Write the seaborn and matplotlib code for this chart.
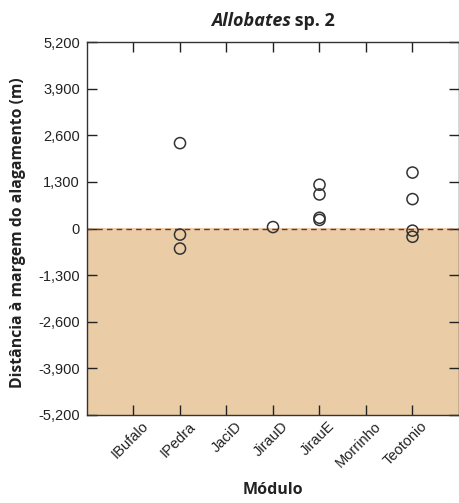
import matplotlib
matplotlib.use("Agg")
import matplotlib.pyplot as plt
import matplotlib.transforms as mtransforms
import seaborn as sns
import pandas as pd
from matplotlib.ticker import FuncFormatter

categories = ["IBufalo", "IPedra", "JaciD", "JirauD", "JirauE", "Morrinho", "Teotonio"]
point_module = ["IPedra", "IPedra", "IPedra",
                "JirauD",
                "JirauE", "JirauE", "JirauE", "JirauE",
                "Teotonio", "Teotonio", "Teotonio", "Teotonio"]
point_distance = [2380, -170, -560,
                  40,
                  1220, 950, 300, 240,
                  1560, 820, -60, -230]
y_ticks = [5200, 3900, 2600, 1300, 0, -1300, -2600, -3900, -5200]

df = pd.DataFrame({"Módulo": point_module, "Distância": point_distance})

sns.set_theme(style="ticks")
plt.rcParams["font.family"] = ["Liberation Sans", "DejaVu Sans"]

fig = plt.figure(figsize=(4.6, 5.03), dpi=100)
ax = fig.add_axes([87/460, 1-415/503, (459-87)/460, (415-42)/503])

ax.axhspan(-5200, 0, color="#EACCA6", zorder=0, lw=0)
ax.axhline(0, color="#7a2f35", lw=1.0, ls=(0, (4, 3)), zorder=1)

sns.stripplot(data=df, x="Módulo", y="Distância", order=categories, jitter=False,
              color="#333333", size=8, linewidth=1.1, edgecolor="#333333",
              ax=ax, zorder=3)
for c in ax.collections:
    c.set_facecolor("none")
    c.set_edgecolor("#333333")

ax.set_xlim(-1, 7)
ax.set_ylim(-5200, 5200)
ax.set_yticks(y_ticks)
ax.yaxis.set_major_formatter(FuncFormatter(lambda v, p: f"{int(v):,}"))
ax.tick_params(axis="both", direction="in", length=7, width=1, color="#222222",
               top=True, right=True, labelsize=10.5, labelcolor="#222222")
ax.tick_params(axis="x", pad=3)
ax.tick_params(axis="y", pad=5)
offset = mtransforms.ScaledTranslation(8/100, 0, fig.dpi_scale_trans)
for lab in ax.get_xticklabels():
    lab.set_rotation(45)
    lab.set_ha("right")
    lab.set_rotation_mode("anchor")
    lab.set_transform(lab.get_transform() + offset)
for s in ax.spines.values():
    s.set_color("#333333")
    s.set_linewidth(1.0)
    s.set_visible(True)

ax.set_xlabel("Módulo", fontsize=11.5, fontweight="bold", family="Open Sans",
              color="#222222", labelpad=9)
ax.set_ylabel("Distância à margem do alagamento (m)", fontsize=11.3, fontweight="bold",
              family="Open Sans", color="#222222")
ax.yaxis.set_label_coords(-(87-26)/372, 0.49)

# Title with mixed styles
fig.canvas.draw()
r = fig.canvas.get_renderer()
t1 = fig.text(0, 0, "Allobates", fontsize=13, fontweight="bold", style="italic",
              family="Open Sans", color="#222222")
t2 = fig.text(0, 0, " sp. 2", fontsize=13, fontweight="bold",
              family="Open Sans", color="#222222")
w1 = t1.get_window_extent(r).width
w2 = t2.get_window_extent(r).width
cx = 273
x0 = cx - (w1 + w2) / 2
ty = 1 - 26/503
t1.set_position((x0/460, ty))
t2.set_position(((x0 + w1)/460, ty))

fig.savefig("out.png", dpi=100)
